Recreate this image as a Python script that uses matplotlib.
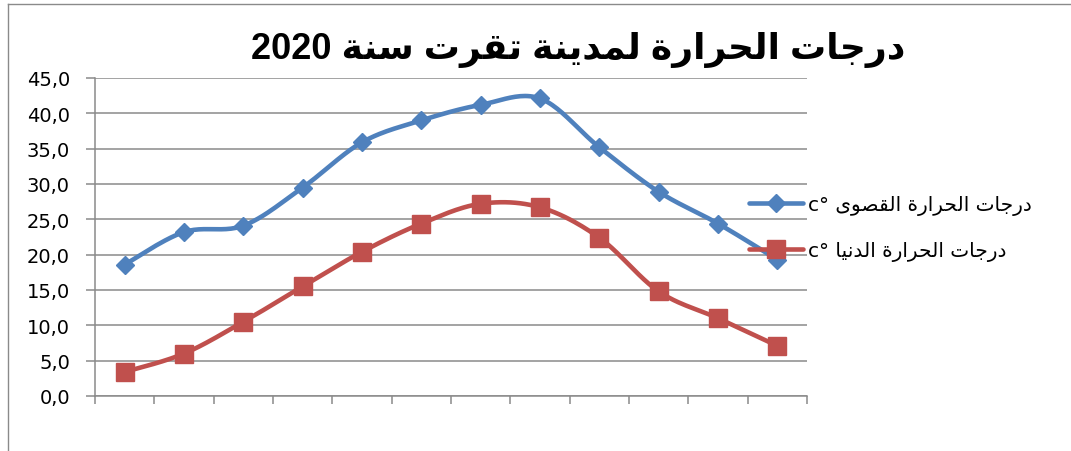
import itertools
import numpy as np
import matplotlib
matplotlib.use('Agg')
import matplotlib.pyplot as plt
from matplotlib.lines import Line2D

months = list(range(1, 13))
t_max = [18.6, 23.2, 24.1, 29.5, 35.9, 39.0, 41.2, 42.1, 35.2, 28.9, 24.4, 19.3]
t_min = [3.4, 6.0, 10.5, 15.5, 20.4, 24.4, 27.2, 26.7, 22.4, 14.8, 11.0, 7.1]
title = 'درجات الحرارة لمدينة تقرت سنة 2020'
label_max = 'درجات الحرارة القصوى c°'
label_min = 'درجات الحرارة الدنيا c°'
y_ticks = [0, 5, 10, 15, 20, 25, 30, 35, 40, 45]

# arabic presentation forms: isolated, final, initial, medial
FORMS = {
    'ا': ('\uFE8D', '\uFE8E', None, None),
    'د': ('\uFEA9', '\uFEAA', None, None),
    'ر': ('\uFEAD', '\uFEAE', None, None),
    'ة': ('\uFE93', '\uFE94', None, None),
    'و': ('\uFEED', '\uFEEE', None, None),
    'ى': ('\uFEEF', '\uFEF0', None, None),
    'ج': ('\uFE9D', '\uFE9E', '\uFE9F', '\uFEA0'),
    'ت': ('\uFE95', '\uFE96', '\uFE97', '\uFE98'),
    'ل': ('\uFEDD', '\uFEDE', '\uFEDF', '\uFEE0'),
    'ح': ('\uFEA1', '\uFEA2', '\uFEA3', '\uFEA4'),
    'م': ('\uFEE1', '\uFEE2', '\uFEE3', '\uFEE4'),
    'ي': ('\uFEF1', '\uFEF2', '\uFEF3', '\uFEF4'),
    'ن': ('\uFEE5', '\uFEE6', '\uFEE7', '\uFEE8'),
    'ق': ('\uFED5', '\uFED6', '\uFED7', '\uFED8'),
    'س': ('\uFEB1', '\uFEB2', '\uFEB3', '\uFEB4'),
    'ص': ('\uFEB9', '\uFEBA', '\uFEBB', '\uFEBC'),
}


def shape(s):
    out = []
    for i, c in enumerate(s):
        if c not in FORMS:
            out.append(c)
            continue
        f = FORMS[c]
        prev = s[i-1] if i > 0 else ''
        nxt = s[i+1] if i+1 < len(s) else ''
        jp = prev in FORMS and FORMS[prev][2] is not None
        jn = nxt in FORMS and f[2] is not None
        if jp and jn:
            out.append(f[3])
        elif jp:
            out.append(f[1])
        elif jn:
            out.append(f[2])
        else:
            out.append(f[0])
    return ''.join(out)


def ar(s):
    s = shape(s)
    runs = []
    for rtl, g in itertools.groupby(s, key=lambda c: c == ' ' or '\uFE70' <= c <= '\uFEFF'):
        g = ''.join(g)
        runs.append(g[::-1] if rtl else g)
    return ''.join(runs[::-1])


def smooth(y, n=24):
    # excel-like bezier smoothing
    p = np.column_stack([np.arange(len(y)), y]).astype(float)
    pts = []
    for i in range(len(p) - 1):
        p0 = p[i-1] if i > 0 else p[i]
        p3 = p[i+2] if i + 2 < len(p) else p[i+1]
        c1 = p[i] + (p[i+1] - p0) / 6
        c2 = p[i+1] - (p3 - p[i]) / 6
        t = np.linspace(0, 1, n, endpoint=False)[:, None]
        seg = (1-t)**3*p[i] + 3*(1-t)**2*t*c1 + 3*(1-t)*t**2*c2 + t**3*p[i+1]
        pts.append(seg)
    pts.append(p[-1:])
    pts = np.vstack(pts)
    return pts[:, 0], pts[:, 1], [k*n for k in range(len(y))]


W, H = 1071, 452
fig = plt.figure(figsize=(W/100, H/100), dpi=100)
ax = fig.add_axes([95/W, 1-397/H, (807-95)/W, (397-79)/H])

grid_c = '#8a8a8a'
xs, ys, mk = smooth(t_max)
ax.plot(xs, ys, color='#4F81BD', lw=3.3, marker='D', markersize=9, markevery=mk,
        solid_capstyle='round', label=ar(label_max), zorder=3)
xs, ys, mk = smooth(t_min)
ax.plot(xs, ys, color='#C0504D', lw=3.3, marker='s', markersize=13.5, markevery=mk,
        solid_capstyle='round', label=ar(label_min), zorder=3)

ax.set_xlim(-0.5, len(months) - 0.5)
ax.set_ylim(0, 45)
ax.set_yticks(y_ticks)
ax.set_yticklabels([f'{v:.1f}'.replace('.', ',') for v in y_ticks])
ax.set_xticks(np.arange(len(months) + 1) - 0.5)
ax.set_xticklabels([])
ax.yaxis.grid(True, color=grid_c, lw=1.1)
ax.set_axisbelow(True)
for s in ['top', 'right']:
    ax.spines[s].set_visible(False)
for s in ['left', 'bottom']:
    ax.spines[s].set_color(grid_c)
    ax.spines[s].set_linewidth(1.1)
ax.tick_params(axis='y', length=6.5, width=1.1, color=grid_c, pad=11.5, labelsize=14)
ax.tick_params(axis='x', length=6, width=1.1, color=grid_c)

fig.text(578/W, 1-50/H, ar(title), ha='center', va='center', fontsize=26,
         fontweight='bold', family=['Liberation Sans', 'DejaVu Sans'])

fig.legend(loc='center left', bbox_to_anchor=(749/W, 1-229/H), frameon=False,
           fontsize=14.5, handlelength=2.7, handletextpad=0.25, labelspacing=1.3,
           borderpad=0, borderaxespad=0)

# chart area border
fig.add_artist(Line2D([8/W, 1], [1-5/H, 1-5/H], color=grid_c, lw=1))
fig.add_artist(Line2D([8/W, 8/W], [0, 1-5/H], color=grid_c, lw=1))

fig.savefig('out.png', dpi=100)
